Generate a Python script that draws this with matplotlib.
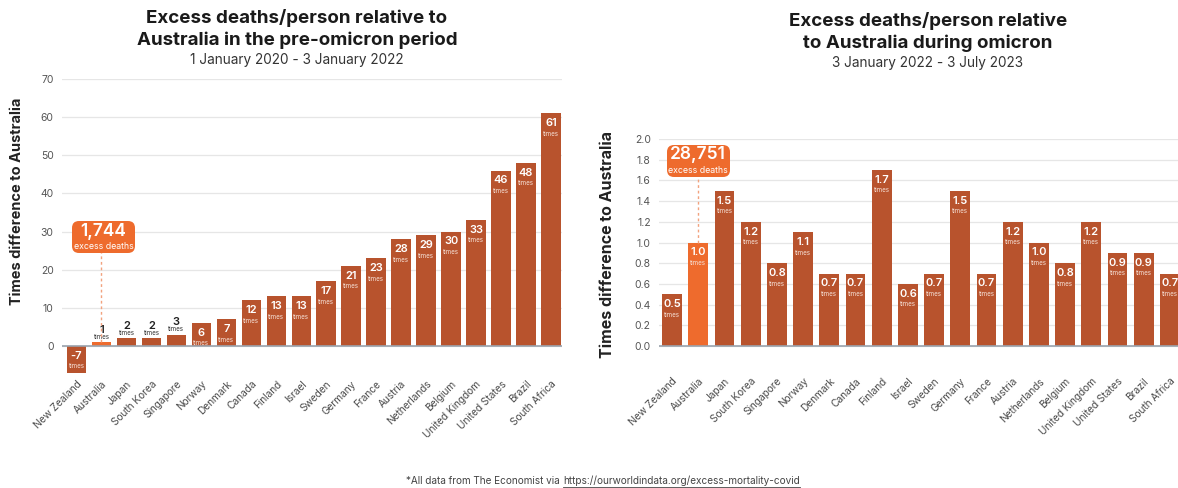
import matplotlib
matplotlib.use('Agg')
import matplotlib.pyplot as plt
from matplotlib.lines import Line2D
from matplotlib.offsetbox import TextArea, VPacker, AnnotationBbox

plt.rcParams['font.family'] = ['Inter', 'DejaVu Sans']

# excess deaths per person, as a multiple of Australia's figure
countries = ['New Zealand', 'Australia', 'Japan', 'South Korea', 'Singapore', 'Norway',
             'Denmark', 'Canada', 'Finland', 'Israel', 'Sweden', 'Germany', 'France',
             'Austria', 'Netherlands', 'Belgium', 'United Kingdom', 'United States',
             'Brazil', 'South Africa']
pre_omicron = [-7, 1, 2, 2, 3, 6, 7, 12, 13, 13, 17, 21, 23, 28, 29, 30, 33, 46, 48, 61]
omicron = [0.5, 1.0, 1.5, 1.2, 0.8, 1.1, 0.7, 0.7, 1.7, 0.6, 0.7, 1.5, 0.7, 1.2, 1.0,
           0.8, 1.2, 0.9, 0.9, 0.7]
pre_deaths = '1,744'
omicron_deaths = '28,751'
pre_ticks = [0, 10, 20, 30, 40, 50, 60, 70]
omicron_ticks = [0.0, 0.2, 0.4, 0.6, 0.8, 1.0, 1.2, 1.4, 1.6, 1.8, 2.0]

RUST = '#B8532D'
ORANGE = '#EE6B2D'
DASH = '#F2A27E'
W, H = 1178, 488

fig = plt.figure(figsize=(W / 100, H / 100), dpi=100)
ax1 = fig.add_axes([62 / W, 1 - 374.6 / H, 500 / W, 295.6 / H])
ax2 = fig.add_axes([659 / W, 1 - 372 / H, 524 / W, 233 / H])


def style_axis(ax, ticks, fmt):
    for s in ax.spines.values():
        s.set_visible(False)
    ax.set_yticks(ticks)
    ax.set_yticklabels([fmt.format(t) for t in ticks])
    ax.yaxis.grid(True, color='#E6E6E6', lw=0.9)
    ax.set_axisbelow(True)
    ax.tick_params(axis='y', length=0, pad=6, labelsize=7.5, labelcolor='#555555')
    ax.tick_params(axis='x', length=0, pad=3)
    ax.set_xticks(range(len(countries)))
    ax.set_xticklabels(countries, rotation=45, ha='right', rotation_mode='anchor',
                       fontsize=7.3, color='#4A4A4A')
    ax.axhline(0, color='#9AA3AD', lw=1.2, zorder=3)


def bar_labels(ax, vals, fmt, small_below=None):
    for i, v in enumerate(vals):
        if small_below is not None and 0 <= v < small_below:
            # short bars get their label above the bar
            ax.annotate('times', (i, v), xytext=(0, 1.5), textcoords='offset points',
                        ha='center', va='bottom', fontsize=4.5, color='#333333')
            ax.annotate(fmt.format(v), (i, v), xytext=(0, 5.5), textcoords='offset points',
                        ha='center', va='bottom', fontsize=8, fontweight='semibold',
                        color='#222222')
            continue
        y = max(v, 0)
        ax.annotate(fmt.format(v), (i, y), xytext=(0, -3.5), textcoords='offset points',
                    ha='center', va='top', fontsize=8, fontweight='semibold', color='white')
        ax.annotate('times', (i, y), xytext=(0, -12.5), textcoords='offset points',
                    ha='center', va='top', fontsize=4.5, color='#F6E0D6')


def callout(ax, x, y, top, number):
    ax.plot([1, 1], [top, y], ls=(0, (2, 2)), color=DASH, lw=1, zorder=4)
    box = VPacker(children=[
        TextArea(number, textprops=dict(color='white', fontsize=12.5, fontweight='semibold')),
        TextArea('excess deaths', textprops=dict(color='white', fontsize=6.3)),
    ], align='center', pad=0, sep=2)
    ab = AnnotationBbox(box, (x, y), xycoords='data', frameon=True, pad=0.35,
                        bboxprops=dict(boxstyle='round,pad=0.1,rounding_size=0.5',
                                       fc=ORANGE, ec='none'), zorder=6)
    ax.add_artist(ab)


# pre-omicron panel
colors1 = [ORANGE if c == 'Australia' else RUST for c in countries]
ax1.bar(range(len(countries)), pre_omicron, width=0.78, color=colors1, zorder=2)
ax1.set_xlim(-0.58, 19.44)
ax1.set_ylim(-7.5, 70)
style_axis(ax1, pre_ticks, '{:d}')
bar_labels(ax1, pre_omicron, '{:d}', small_below=4)
callout(ax1, 1.08, 28.6, pre_omicron[1], pre_deaths)

# omicron panel
colors2 = [ORANGE if c == 'Australia' else RUST for c in countries]
ax2.bar(range(len(countries)), omicron, width=0.76, color=colors2, zorder=2)
ax2.set_xlim(-0.5, 19.5)
ax2.set_ylim(-0.25, 2.0)
style_axis(ax2, omicron_ticks, '{:.1f}')
bar_labels(ax2, omicron, '{:.1f}')
callout(ax2, 1.0, 1.79, omicron[1], omicron_deaths)

# axis titles
fig.text(17 / W, 1 - 201 / H, 'Times difference to Australia', rotation=90,
         ha='center', va='center', fontsize=10.5, fontweight='bold', color='#222222')
fig.text(607 / W, 1 - 244 / H, 'Times difference to Australia', rotation=90,
         ha='center', va='center', fontsize=11.5, fontweight='bold', color='#222222')

# panel titles
fig.text(297 / W, 1 - 18 / H, 'Excess deaths/person relative to', ha='center', va='center',
         fontsize=13.5, fontweight='bold', color='#1A1A1A')
fig.text(297 / W, 1 - 40 / H, 'Australia in the pre-omicron period', ha='center', va='center',
         fontsize=13.5, fontweight='bold', color='#1A1A1A')
fig.text(297 / W, 1 - 60 / H, '1 January 2020 - 3 January 2022', ha='center', va='center',
         fontsize=9.8, color='#333333')
fig.text(928 / W, 1 - 21 / H, 'Excess deaths/person relative', ha='center', va='center',
         fontsize=13.5, fontweight='bold', color='#1A1A1A')
fig.text(928 / W, 1 - 43 / H, 'to Australia during omicron', ha='center', va='center',
         fontsize=13.5, fontweight='bold', color='#1A1A1A')
fig.text(928 / W, 1 - 63 / H, '3 January 2022 - 3 July 2023', ha='center', va='center',
         fontsize=9.8, color='#333333')

# source note with underlined link
r = fig.canvas.get_renderer()
prefix = '*All data from The Economist via '
url = 'https://ourworldindata.org/excess-mortality-covid'
t1 = fig.text(0, 1 - 481 / H, prefix, ha='left', va='center', fontsize=7.2, color='#444444')
t2 = fig.text(0, 1 - 481 / H, url, ha='left', va='center', fontsize=7.2, color='#444444')
w1 = t1.get_window_extent(r).width
w2 = t2.get_window_extent(r).width
x0 = 603 - (w1 + w2) / 2
t1.set_x(x0 / W)
t2.set_x((x0 + w1) / W)
fig.add_artist(Line2D([(x0 + w1) / W, (x0 + w1 + w2) / W], [1 - 486.5 / H, 1 - 486.5 / H],
                      color='#444444', lw=0.6))

fig.savefig('out.png', dpi=100)
